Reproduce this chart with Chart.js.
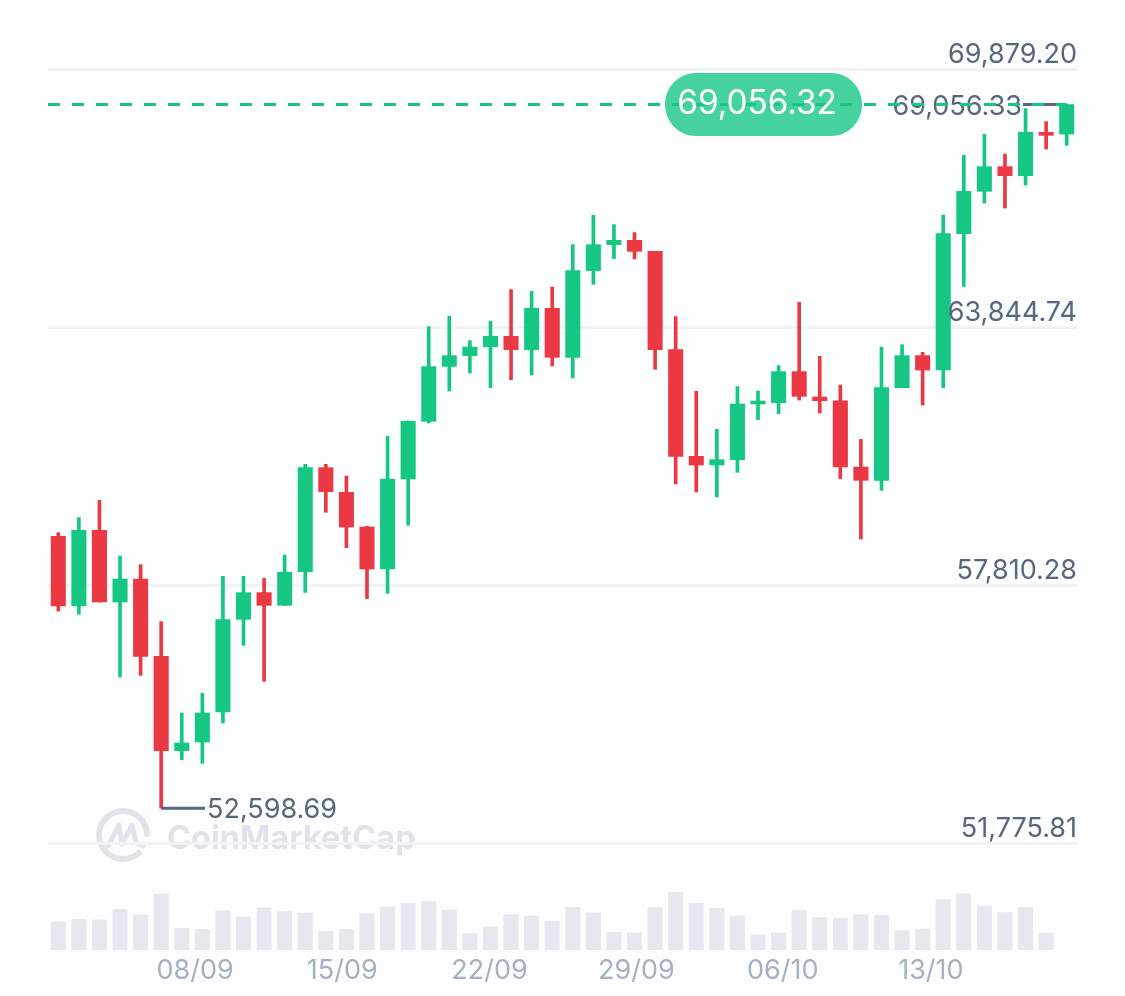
<!DOCTYPE html>
<html lang="en">
<head>
  <meta charset="UTF-8" />
  <title>BTC candles</title>
  <script src="https://cdn.jsdelivr.net/npm/chart.js"></script>
  <style>
    html, body { margin: 0; background: #fcfdfe; }
    canvas { display: block; }
  </style>
</head>
<body>
<canvas id="chart" width="1125" height="996"></canvas>
<script>
  const opens = [58956, 57326, 59097, 57420, 57958, 56150, 53944, 54145, 54847, 57015,
    57640, 57343, 58131, 60563, 59986, 59174, 58192, 60297, 61646, 62930,
    63183, 63390, 63634, 63323, 64289, 63143, 65171, 65779, 65880, 65622,
    63323, 60828, 60624, 60750, 62051, 62084, 62809, 62215, 62125, 60577,
    60266, 62434, 63183, 62846, 66036, 67026, 67603, 67393, 68406, 68366];
  const closes = [57326, 59097, 57420, 57958, 56150, 53944, 54122, 54824, 57008, 57640,
    57343, 58114, 60563, 60002, 59174, 58192, 60297, 61646, 62926, 63183,
    63384, 63634, 63323, 64289, 63143, 65171, 65779, 65880, 65622, 63323,
    60828, 60624, 60750, 62051, 62121, 62809, 62231, 62130, 60577, 60266,
    62434, 63183, 62846, 66036, 67026, 67603, 67393, 68406, 68335, 69056.32];
  const highs = [59043, 59394, 59798, 58496, 58294, 56961, 54824, 55284, 58021, 58021,
    57974, 58519, 60640, 60640, 60367, 59190, 61295, 61655, 63861, 64102,
    63534, 63985, 64727, 64687, 64787, 65779, 66464, 66247, 66060, 65622,
    64095, 62348, 61459, 62458, 62355, 62949, 64429, 63166, 62495, 61225,
    63384, 63440, 63260, 66471, 67868, 68359, 67898, 68960, 68656, 69056.33];
  const lows = [57209, 57132, 57420, 55666, 55705, 52598.69, 53734, 53647, 54590, 56407,
    55565, 57343, 57647, 59518, 58692, 57499, 57623, 59214, 61606, 62355,
    62776, 62434, 62621, 62729, 62940, 62659, 64850, 65452, 65445, 62862,
    60180, 59993, 59876, 60453, 61686, 61826, 62144, 61840, 60306, 58893,
    60032, 62434, 62028, 62434, 64804, 66752, 66635, 67173, 68015, 68102];
  const volumes = [28, 30.7, 30, 40.7, 35, 56, 21.7, 20.7, 39.3, 33,
    42, 38.3, 37, 18.7, 20.7, 36.3, 43, 46.7, 48.7, 40,
    16.3, 23, 35.3, 34, 28.7, 42.6, 37.2, 17.6, 17.2, 42.6,
    57.8, 46.7, 41.6, 34.1, 15.2, 17.2, 39.6, 32.5, 31.8, 35.2,
    34.8, 19.3, 21, 50.4, 56.1, 43.9, 37.5, 42.6, 16.9, null];

  const priceTicks = [51775.81, 57810.28, 63844.74, 69879.20];
  const dateTickPositions = [6.65, 13.8, 20.95, 28.09, 35.2, 42.4];
  const dateTickLabels = ["08/09", "15/09", "22/09", "29/09", "06/10", "13/10"];

  const currentPrice = 69056.32;
  const highPrice = 69056.33;
  const lowPrice = 52598.69;

  const GREEN = "#16c784";
  const RED = "#ea3943";
  const FONT = "Inter, sans-serif";
  const fmt = v => v.toLocaleString("en-US", { minimumFractionDigits: 2, maximumFractionDigits: 2 });
  const candleColors = opens.map((o, i) => closes[i] >= o ? GREEN : RED);

  // watermark sits under the grid
  const watermark = {
    id: "watermark",
    beforeDraw(chart) {
      const c = chart.ctx;
      c.save();
      c.strokeStyle = "#e0e4ea";
      c.fillStyle = "#e0e4ea";
      c.lineWidth = 6;
      c.lineCap = "round";
      c.lineJoin = "round";
      c.beginPath();
      c.arc(123, 835, 24, 0.85, 0.05 + Math.PI * 2 - 0.1);
      c.stroke();
      c.lineWidth = 5;
      c.beginPath();
      c.moveTo(108, 846);
      c.lineTo(119, 825);
      c.lineTo(122, 844);
      c.lineTo(132, 825);
      c.lineTo(136, 843);
      c.lineTo(143, 846);
      c.stroke();
      c.font = "700 32.5px " + FONT;
      c.textBaseline = "middle";
      c.fillText("CoinMarketCap", 167, 839);
      c.restore();
    }
  };

  // current price line and pill, high / low markers
  const priceMarks = {
    id: "priceMarks",
    afterDatasetsDraw(chart) {
      const c = chart.ctx;
      const y = chart.scales.y;
      const x = chart.scales.x;
      const curY = y.getPixelForValue(currentPrice);
      const highY = y.getPixelForValue(highPrice);
      const lowY = y.getPixelForValue(lowPrice);
      const highX = x.getPixelForValue(49);
      const lowX = x.getPixelForValue(5);

      c.save();
      c.font = "27px " + FONT;
      c.textBaseline = "middle";
      c.fillStyle = "#58667e";
      c.strokeStyle = "#58667e";
      c.lineWidth = 3;

      c.beginPath();
      c.moveTo(1023, highY);
      c.lineTo(highX, highY);
      c.stroke();
      c.textAlign = "right";
      c.fillText(fmt(highPrice), 1022, highY + 2);

      c.beginPath();
      c.moveTo(lowX, lowY);
      c.lineTo(205, lowY);
      c.stroke();
      c.textAlign = "left";
      c.fillText(fmt(lowPrice), 207, lowY + 2);

      c.strokeStyle = GREEN;
      c.setLineDash([12, 12]);
      c.beginPath();
      c.moveTo(48, curY);
      c.lineTo(highX, curY);
      c.stroke();
      c.setLineDash([]);

      c.fillStyle = "rgba(22, 199, 132, 0.8)";
      c.beginPath();
      c.roundRect(665, 73, 197, 63, 31);
      c.fill();
      c.fillStyle = "#ffffff";
      c.font = "33.3px " + FONT;
      c.textAlign = "center";
      c.fillText(fmt(currentPrice), 757, 104);
      c.restore();
    }
  };

  new Chart(document.getElementById("chart"), {
    type: "bar",
    data: {
      labels: opens.map((o, i) => i),
      datasets: [
        {
          label: "Volume",
          data: volumes,
          yAxisID: "yVol",
          backgroundColor: "#e5e9ef",
          barThickness: 14.4,
          order: 3
        },
        {
          label: "Wick",
          data: lows.map((l, i) => [l, highs[i]]),
          backgroundColor: candleColors,
          barThickness: 3,
          order: 2
        },
        {
          label: "Body",
          data: opens.map((o, i) => [o, closes[i]]),
          backgroundColor: candleColors,
          barThickness: 14.4,
          order: 1
        }
      ]
    },
    options: {
      responsive: false,
      animation: false,
      grouped: false,
      layout: { padding: { left: 48, right: 48, top: 20, bottom: 0 } },
      plugins: { legend: { display: false }, tooltip: { enabled: false } },
      scales: {
        x: { display: false, offset: true },
        xDate: {
          type: "linear",
          axis: "x",
          position: "bottom",
          offset: false,
          min: -0.5,
          max: 49.5,
          grid: { display: false },
          border: { display: false },
          afterBuildTicks: s => { s.ticks = dateTickPositions.map(v => ({ value: v })); },
          afterFit: s => { s.height = 46; },
          ticks: {
            color: "#a6b0c3",
            font: { family: FONT, size: 27 },
            padding: -3,
            maxRotation: 0,
            autoSkip: false,
            callback: (v, i) => dateTickLabels[i]
          }
        },
        y: {
          position: "right",
          min: 49281,
          max: 71033,
          grid: { color: "#f0f2f5", lineWidth: 3, drawTicks: false },
          border: { display: false },
          afterBuildTicks: s => { s.ticks = priceTicks.map(v => ({ value: v })); },
          afterFit: s => { s.width = 0; },
          ticks: {
            mirror: true,
            z: 1,
            color: "#58667e",
            font: { family: FONT, size: 27 },
            padding: 0,
            labelOffset: -14,
            callback: v => fmt(v)
          }
        },
        yVol: {
          display: false,
          min: 0,
          max: 930
        }
      }
    },
    plugins: [watermark, priceMarks]
  });
</script>
</body>
</html>
